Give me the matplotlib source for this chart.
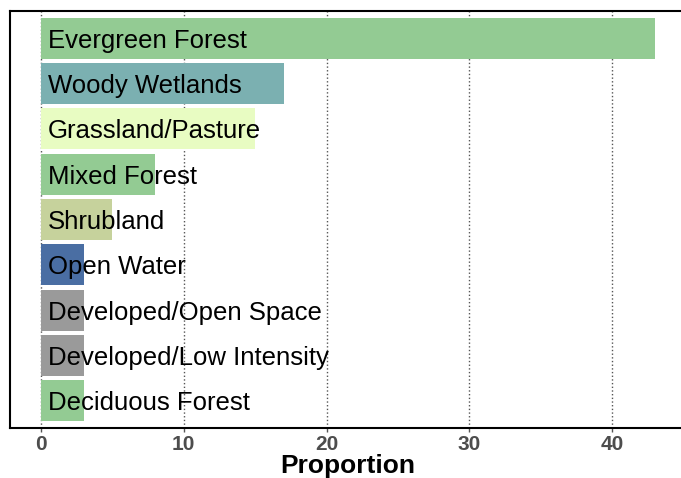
import matplotlib.pyplot as plt

categories = ["Evergreen Forest", "Woody Wetlands", "Grassland/Pasture", "Mixed Forest",
              "Shrubland", "Open Water", "Developed/Open Space",
              "Developed/Low Intensity", "Deciduous Forest"]
values = [43, 17, 15, 8, 5, 3, 3, 3, 3]
colors = ["#93cb93", "#7bb0b1", "#e8fcc2", "#93cb93", "#c6d29c",
          "#4a6ea3", "#9a9a9a", "#9a9a9a", "#93cb93"]

plt.rcParams['font.family'] = ['Liberation Sans', 'DejaVu Sans']

W, H = 681, 478
fig = plt.figure(figsize=(W / 100, H / 100), dpi=100)
ax = fig.add_axes([10 / W, 50 / H, (686 - 10) / W, (428 - 11) / H])

n = len(categories)
ypos = list(range(n, 0, -1))
ax.barh(ypos, values, height=0.9, color=colors, zorder=2)
for y, lab in zip(ypos, categories):
    ax.text(0.5, y, lab, ha='left', va='center_baseline', fontsize=18.5, color='black', zorder=3)

ax.set_xlim(-2.15, 45.15)
ax.set_ylim(0.4, n + 0.6)
ax.set_xticks([0, 10, 20, 30, 40])
ax.set_yticks([])
ax.grid(axis='x', linestyle=':', color='#555555', linewidth=1, zorder=0)
ax.tick_params(axis='x', length=3, width=1, color='#555555', pad=2,
               labelsize=15, labelcolor='#4d4d4d')
for t in ax.get_xticklabels():
    t.set_fontweight('bold')
ax.set_xlabel("Proportion", fontsize=19, fontweight='bold', labelpad=0)
for s in ax.spines.values():
    s.set_linewidth(1.5)
    s.set_color('black')

fig.savefig("out.png", dpi=100)
